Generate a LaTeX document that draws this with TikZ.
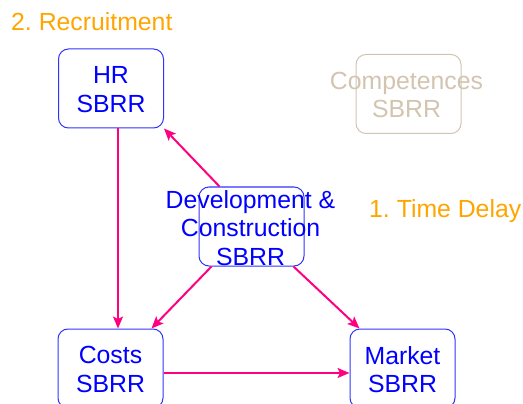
\documentclass[tikz,border=0pt]{standalone}
\usepackage{fontspec}
\setmainfont{Liberation Sans}
\frenchspacing
\usetikzlibrary{arrows.meta,calc}
\definecolor{txtblue}{RGB}{0,0,255}
\definecolor{boxblue}{RGB}{50,50,255}
\definecolor{arrpink}{RGB}{255,0,128}
\definecolor{orangetxt}{RGB}{255,165,0}
\definecolor{tan}{RGB}{210,196,176}
\tikzset{
  sbox/.style={draw=boxblue, line width=1pt, rounded corners=10pt, minimum width=105pt, minimum height=79pt, inner sep=0pt},
  fadedbox/.style={sbox, draw=tan},
  btext/.style={text=txtblue, align=center, inner sep=0pt, font=\fontsize{24.8}{28.3}\selectfont},
  ftext/.style={btext, text=tan},
  otext/.style={text=orangetxt, inner sep=0pt, anchor=base west, font=\fontsize{24.8}{28.3}\selectfont},
  conn/.style={draw=arrpink, line width=2pt, -{Stealth[length=12pt,width=10pt,inset=2.5pt]}}
}
\begin{document}
\begin{tikzpicture}[x=1pt,y=-1pt]
\useasboundingbox (0,0) rectangle (523,404);
\node[sbox] (hr) at (111,88.5) {};
\node[btext] (hrt) at ($(hr.center)+(0,1)$) {HR\\SBRR};
\node[fadedbox] (comp) at (408.5,94) {};
\node[ftext] (compt) at ($(comp.center)+(-2,1)$) {Competences\\SBRR};
\node[sbox] (dev) at (251.5,226.5) {};
\node[btext] (devt) at ($(dev.center)+(-1,1.5)$) {Development \&\\Construction\\SBRR};
\node[sbox] (costs) at (110.5,368.5) {};
\node[btext] (costst) at ($(costs.center)+(0,1)$) {Costs\\SBRR};
\node[sbox] (market) at (402.5,368.5) {};
\node[btext] (marketst) at ($(market.center)+(0,1)$) {Market\\SBRR};
\node[otext] (rec) at (11,31) {2. Recruitment};
\node[otext] (td) at (369,217.5) {1. Time Delay};
\draw[conn] (hr.south -| 118,0) -- (costs.north -| 118,0);
\draw[conn] ($(dev.north west)+(21,0)$) -- (hr.south east);
\draw[conn] ($(dev.south west)+(13,0)$) -- ($(costs.north east)+(-12,0)$);
\draw[conn] ($(dev.south east)+(-11,0)$) -- ($(market.north west)+(10,0)$);
\draw[conn] (costs.east |- 0,373) -- (market.west |- 0,373);
\end{tikzpicture}
\end{document}
